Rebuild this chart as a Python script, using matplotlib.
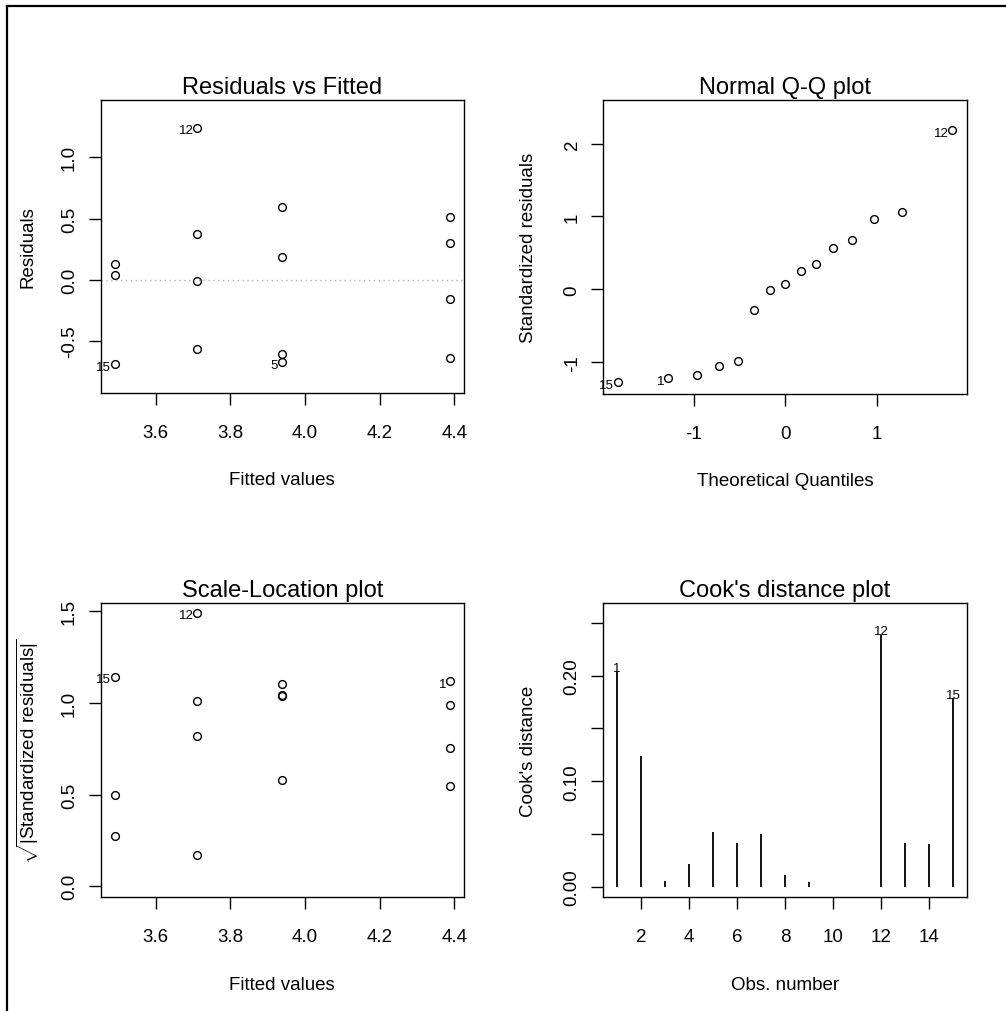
import matplotlib
matplotlib.use("Agg")
import matplotlib.pyplot as plt
from matplotlib.lines import Line2D

plt.rcParams['font.family'] = ['Liberation Sans', 'DejaVu Sans']
plt.rcParams['mathtext.fontset'] = 'custom'
plt.rcParams['mathtext.rm'] = 'Liberation Sans'

# --- data ---
fitted = [3.49, 3.49, 3.49, 3.712, 3.712, 3.712, 3.712,
          3.939, 3.939, 3.939, 3.939, 4.389, 4.389, 4.389, 4.389]
residuals = [0.128, 0.041, -0.690, 1.241, 0.374, -0.008, -0.567,
             0.597, 0.188, -0.605, -0.676, 0.513, 0.300, -0.158, -0.641]
resid_labels = {2: '15', 3: '12', 10: '5'}

theo_q = [-1.83, -1.28, -0.97, -0.73, -0.52, -0.34, -0.17, 0.0,
          0.17, 0.34, 0.52, 0.73, 0.97, 1.28, 1.83]
std_resid = [-1.279, -1.219, -1.174, -1.050, -0.991, -0.283, -0.009, 0.068,
             0.256, 0.342, 0.566, 0.671, 0.963, 1.064, 2.187]
qq_labels = {0: '15', 1: '1', 14: '12'}

sqrt_abs_std = [1.144, 0.498, 0.276, 1.491, 1.011, 0.822, 0.171,
                1.102, 1.044, 1.036, 0.582, 1.118, 0.987, 0.756, 0.549]
sl_labels = {0: '15', 3: '12', 11: '1'}

obs = list(range(1, 16))
cooks = [0.204, 0.1235, 0.0057, 0.0215, 0.0515, 0.0414, 0.0499, 0.0114,
         0.0041, 0.0, 0.0, 0.2389, 0.0414, 0.0404, 0.1785]
cook_labels = {0: '1', 11: '12', 14: '15'}

fig = plt.figure(figsize=(10.06, 10.12), dpi=100)

W, H = 1006.0, 1012.0
def box(l, t, r, b):
    return [l / W, 1 - b / H, (r - l) / W, (b - t) / H]

ax1 = fig.add_axes(box(100.7, 100.7, 464, 394.3))
ax2 = fig.add_axes(box(603.3, 100.7, 966.7, 394.8))
ax3 = fig.add_axes(box(100.7, 604, 464, 898.3))
ax4 = fig.add_axes(box(603.3, 603.5, 966.7, 898.3))

LAB = 13.5
TITLE = 17
SMALL = 9.5

def style(ax, title, xlabel, ylabel):
    for s in ax.spines.values():
        s.set_linewidth(1.0)
    ax.tick_params(direction='out', length=8.3, width=1.0, labelsize=LAB)
    ax.tick_params(axis='x', pad=14)
    ax.tick_params(axis='y', pad=8)
    for t in ax.get_yticklabels():
        t.set_rotation(90)
        t.set_va('center')
    ax.set_title(title, fontsize=TITLE, pad=5)
    ax.set_xlabel(xlabel, fontsize=LAB)
    ax.set_ylabel(ylabel, fontsize=LAB)
    ax.xaxis.label.set_va('center')
    ax.yaxis.label.set_va('center')

def label_points(ax, xs, ys, labs):
    for i, txt in labs.items():
        ax.annotate(txt, (xs[i], ys[i]), xytext=(-2.8, -1.8),
                    textcoords='offset points', ha='right', va='center',
                    fontsize=SMALL, annotation_clip=False, clip_on=False)

mk = dict(marker='o', linestyle='none', markersize=5.6, markerfacecolor='none',
          markeredgecolor='black', markeredgewidth=1.0, clip_on=False)

# Residuals vs Fitted
ax1.plot(fitted, residuals, **mk)
ax1.axhline(0, color='#b0b0b0', linestyle=(0, (1, 2.5)), linewidth=1.0)
ax1.set_xlim(3.453, 4.426)
ax1.set_ylim(-0.928, 1.471)
ax1.set_xticks([3.6, 3.8, 4.0, 4.2, 4.4])
ax1.set_xticklabels(['3.6', '3.8', '4.0', '4.2', '4.4'])
ax1.set_yticks([-0.5, 0.0, 0.5, 1.0])
ax1.set_yticklabels(['-0.5', '0.0', '0.5', '1.0'])
label_points(ax1, fitted, residuals, resid_labels)
style(ax1, 'Residuals vs Fitted', 'Fitted values', 'Residuals')

# Normal Q-Q
ax2.plot(theo_q, std_resid, **mk)
ax2.set_xlim(-1.993, 1.986)
ax2.set_ylim(-1.435, 2.604)
ax2.set_xticks([-1, 0, 1])
ax2.set_xticklabels(['-1', '0', '1'])
ax2.set_yticks([-1, 0, 1, 2])
ax2.set_yticklabels(['-1', '0', '1', '2'])
label_points(ax2, theo_q, std_resid, qq_labels)
style(ax2, 'Normal Q-Q plot', 'Theoretical Quantiles', 'Standardized residuals')

# Scale-Location
ax3.plot(fitted, sqrt_abs_std, **mk)
ax3.set_xlim(3.453, 4.426)
ax3.set_ylim(-0.06, 1.545)
ax3.set_xticks([3.6, 3.8, 4.0, 4.2, 4.4])
ax3.set_xticklabels(['3.6', '3.8', '4.0', '4.2', '4.4'])
ax3.set_yticks([0.0, 0.5, 1.0, 1.5])
ax3.set_yticklabels(['0.0', '0.5', '1.0', '1.5'])
label_points(ax3, fitted, sqrt_abs_std, sl_labels)
style(ax3, 'Scale-Location plot', 'Fitted values',
      r'$\sqrt{|\mathrm{Standardized\ residuals}|}$')

# Cook's distance
ax4.vlines(obs, 0, cooks, colors='black', linewidth=1.3)
ax4.set_xlim(0.43, 15.56)
ax4.set_ylim(-0.0101, 0.2695)
ax4.set_xticks([2, 4, 6, 8, 10, 12, 14])
ax4.set_xticklabels(['2', '4', '6', '8', '10', '12', '14'])
ax4.set_yticks([0, 0.05, 0.10, 0.15, 0.20, 0.25])
ax4.set_yticklabels(['0.00', '', '0.10', '', '0.20', ''])
for i, txt in cook_labels.items():
    ax4.annotate(txt, (obs[i], cooks[i]), xytext=(0, 2.5),
                 textcoords='offset points', ha='center', va='center',
                 fontsize=SMALL)
style(ax4, "Cook's distance plot", 'Obs. number', "Cook's distance")

for ax in (ax1, ax2, ax3, ax4):
    ax.xaxis.set_label_coords(0.5, -0.295)
for ax in (ax1, ax3):
    ax.yaxis.set_label_coords(-0.2, 0.5)
for ax in (ax2, ax4):
    ax.yaxis.set_label_coords(-0.207, 0.5)

# window frame lines (top and left)
fig.add_artist(Line2D([7 / W, 1.0], [1 - 7 / H, 1 - 7 / H],
                      transform=fig.transFigure, color='black', linewidth=1.6))
fig.add_artist(Line2D([7 / W, 7 / W], [0.0, 1 - 7 / H],
                      transform=fig.transFigure, color='black', linewidth=1.6))

fig.savefig('out.png', dpi=100)
